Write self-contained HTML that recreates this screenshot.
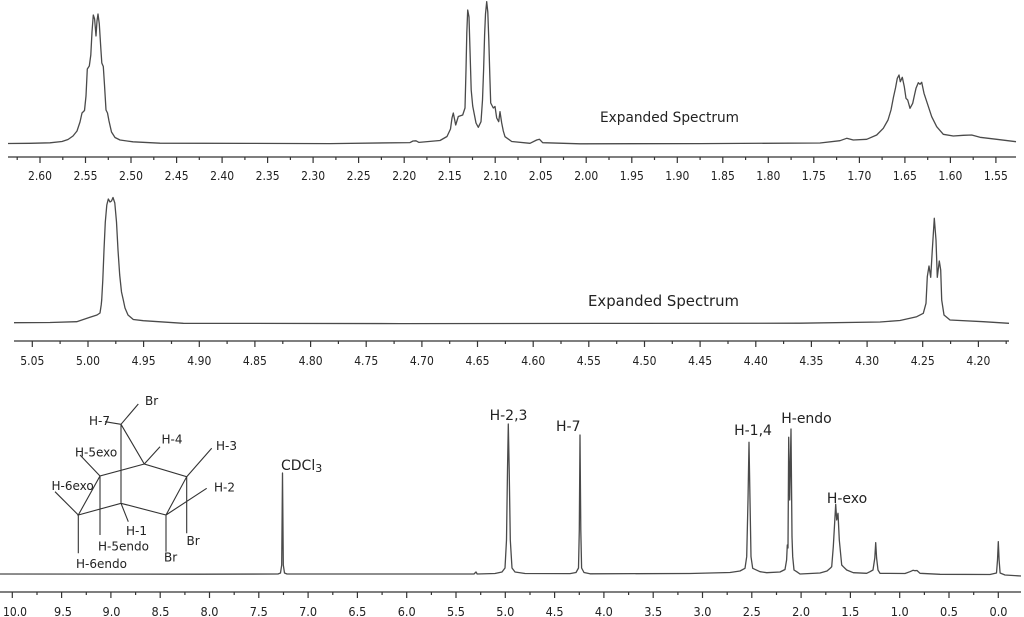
<!DOCTYPE html>
<html><head><meta charset="utf-8"><style>
html,body{margin:0;padding:0;background:#fff;}
svg{display:block;}
text{font-family:"DejaVu Sans","Liberation Sans",sans-serif;fill:#222;}
.ax{stroke:#333;stroke-width:1.2;fill:none;}
.sp{stroke:#4a4a4a;stroke-width:1.3;fill:none;stroke-linejoin:round;}
.mol{stroke:#333;stroke-width:1.1;fill:none;}
.tl{font-size:12px;}
.ml{font-size:12px;}
</style></head><body>
<svg width="1024" height="617" viewBox="0 0 1024 617" xmlns="http://www.w3.org/2000/svg">
<rect width="1024" height="617" fill="#fff"/>

<!-- TOP PANEL -->
<path class="sp" d="M8,143.5 L30,143.3 L50,142.8 L62,141.5 L68,139.5 L73,136 L77,131 L80,122 L82,113 L84.5,110.5 L86,96 L87.3,69 L89.3,66 L90.8,55 L92,32 L93.3,15 L94.6,19 L96,36 L97,21 L98,14 L99.3,24 L100.8,48 L101.8,63 L103.3,66.5 L104.5,85 L106,110 L107.5,113 L109,121 L111.5,132 L115,137.5 L120,140 L133,141.8 L160,143.2 L250,143.4 L330,143.6 L410,142.6 L413,141 L416,140.8 L419,142.4 L440,140.5 L447,136.5 L450.5,129 L452,118 L453.3,113 L455.7,125 L458.3,116.5 L462.7,115 L465,108 L466,70 L466.8,33 L467.7,10 L469,17 L470,50 L471.2,90 L472.7,106 L476,123 L478.3,127.3 L481,121.7 L482.5,100 L483.6,70 L484.6,35 L485.5,14 L486.7,1.7 L487.8,12 L488.8,40 L489.8,75 L490.7,103 L493.3,108 L495,106.5 L496.7,118 L498.7,121.7 L500,111.7 L501.7,123 L503.3,131 L505,136.7 L511.7,141.5 L530,143.3 L536.7,140 L539.5,139.3 L542.7,142.7 L580,143.8 L700,143.6 L820,143 L840,140.7 L846.7,138.3 L853.3,140 L866.7,139.3 L876.7,135 L883.3,128.3 L888,120 L891,110 L893.5,97 L895.5,88 L897.3,78.3 L899,75 L900.3,81.7 L902.3,77.3 L904.3,86.7 L906,98.3 L907.7,100 L910,108.3 L912.7,103.3 L914.5,95 L916,88.3 L918.3,82.7 L920,84.3 L921.7,82.3 L924,93.3 L927.3,103.3 L931.7,116.7 L936.7,126.7 L943.3,134.3 L953.3,136 L963.3,135.3 L971.7,135 L980,137.3 L996.7,139.3 L1016,141.7"/>
<text x="600" y="122" font-size="14" textLength="139" lengthAdjust="spacingAndGlyphs">Expanded Spectrum</text>
<path class="ax" d="M8,157 H1016"/>
<path class="ax" d="M40,157v6M85.5,157v6M131,157v6M176.6,157v6M222.1,157v6M267.6,157v6M313.1,157v6M358.6,157v6M404.2,157v6M449.7,157v6M495.2,157v6M540.7,157v6M586.2,157v6M631.8,157v6M677.3,157v6M722.8,157v6M768.3,157v6M813.8,157v6M859.4,157v6M904.9,157v6M950.4,157v6M995.9,157v6"/>
<path class="ax" d="M17.2,157v3M62.8,157v3M108.3,157v3M153.8,157v3M199.3,157v3M244.9,157v3M290.4,157v3M335.9,157v3M381.4,157v3M426.9,157v3M472.5,157v3M518,157v3M563.5,157v3M609,157v3M654.5,157v3M700.1,157v3M745.6,157v3M791.1,157v3M836.6,157v3M882.1,157v3M927.7,157v3M973.2,157v3"/>
<g class="tl" text-anchor="middle">
<text x="40" y="180" textLength="24" lengthAdjust="spacingAndGlyphs">2.60</text>
<text x="85.5" y="180" textLength="24" lengthAdjust="spacingAndGlyphs">2.55</text>
<text x="131" y="180" textLength="24" lengthAdjust="spacingAndGlyphs">2.50</text>
<text x="176.6" y="180" textLength="24" lengthAdjust="spacingAndGlyphs">2.45</text>
<text x="222.1" y="180" textLength="24" lengthAdjust="spacingAndGlyphs">2.40</text>
<text x="267.6" y="180" textLength="24" lengthAdjust="spacingAndGlyphs">2.35</text>
<text x="313.1" y="180" textLength="24" lengthAdjust="spacingAndGlyphs">2.30</text>
<text x="358.6" y="180" textLength="24" lengthAdjust="spacingAndGlyphs">2.25</text>
<text x="404.2" y="180" textLength="24" lengthAdjust="spacingAndGlyphs">2.20</text>
<text x="449.7" y="180" textLength="24" lengthAdjust="spacingAndGlyphs">2.15</text>
<text x="495.2" y="180" textLength="24" lengthAdjust="spacingAndGlyphs">2.10</text>
<text x="540.7" y="180" textLength="24" lengthAdjust="spacingAndGlyphs">2.05</text>
<text x="586.2" y="180" textLength="24" lengthAdjust="spacingAndGlyphs">2.00</text>
<text x="631.8" y="180" textLength="24" lengthAdjust="spacingAndGlyphs">1.95</text>
<text x="677.3" y="180" textLength="24" lengthAdjust="spacingAndGlyphs">1.90</text>
<text x="722.8" y="180" textLength="24" lengthAdjust="spacingAndGlyphs">1.85</text>
<text x="768.3" y="180" textLength="24" lengthAdjust="spacingAndGlyphs">1.80</text>
<text x="813.8" y="180" textLength="24" lengthAdjust="spacingAndGlyphs">1.75</text>
<text x="859.4" y="180" textLength="24" lengthAdjust="spacingAndGlyphs">1.70</text>
<text x="904.9" y="180" textLength="24" lengthAdjust="spacingAndGlyphs">1.65</text>
<text x="950.4" y="180" textLength="24" lengthAdjust="spacingAndGlyphs">1.60</text>
<text x="995.9" y="180" textLength="24" lengthAdjust="spacingAndGlyphs">1.55</text>
</g>

<!-- MIDDLE PANEL -->
<path class="sp" d="M14,322.7 L50,322.5 L76.7,321.7 L90,317.3 L97,315 L100,313 L101.2,305 L101.7,300 L102.8,280 L104,250 L105.3,222 L106.8,205 L108.3,199 L110,202 L111.5,201 L113,197.5 L114.8,203 L116.5,222 L118,250 L119.7,275 L121.5,292 L123.3,300 L125,308 L128,315 L133.3,319.5 L143.3,320.7 L183.3,323.3 L400,323.6 L600,323.4 L800,323.2 L880,322 L900,320.5 L916.7,316.7 L923.3,313.3 L926,303.3 L927.3,276.7 L929,266 L930.7,277.3 L932.3,250 L934.3,218.3 L936,240 L937.3,277.3 L939.3,261 L940.7,270 L941.7,300 L944,315 L950,320 L983.3,321.7 L1009,323.3"/>
<text x="588" y="306" font-size="15" textLength="151" lengthAdjust="spacingAndGlyphs">Expanded Spectrum</text>
<path class="ax" d="M14,341 H1009"/>
<path class="ax" d="M32.3,341v6M88,341v6M143.6,341v6M199.3,341v6M254.9,341v6M310.6,341v6M366.2,341v6M421.9,341v6M477.5,341v6M533.2,341v6M588.8,341v6M644.5,341v6M700.1,341v6M755.8,341v6M811.4,341v6M867.1,341v6M922.7,341v6M978.4,341v6"/>
<path class="ax" d="M60.1,341v3M115.8,341v3M171.5,341v3M227.1,341v3M282.8,341v3M338.4,341v3M394.1,341v3M449.7,341v3M505.4,341v3M561,341v3M616.7,341v3M672.3,341v3M728,341v3M783.6,341v3M839.3,341v3M894.9,341v3M950.6,341v3M1006.2,341v3"/>
<g class="tl" text-anchor="middle">
<text x="32.3" y="365" textLength="24" lengthAdjust="spacingAndGlyphs">5.05</text>
<text x="88" y="365" textLength="24" lengthAdjust="spacingAndGlyphs">5.00</text>
<text x="143.6" y="365" textLength="24" lengthAdjust="spacingAndGlyphs">4.95</text>
<text x="199.3" y="365" textLength="24" lengthAdjust="spacingAndGlyphs">4.90</text>
<text x="254.9" y="365" textLength="24" lengthAdjust="spacingAndGlyphs">4.85</text>
<text x="310.6" y="365" textLength="24" lengthAdjust="spacingAndGlyphs">4.80</text>
<text x="366.2" y="365" textLength="24" lengthAdjust="spacingAndGlyphs">4.75</text>
<text x="421.9" y="365" textLength="24" lengthAdjust="spacingAndGlyphs">4.70</text>
<text x="477.5" y="365" textLength="24" lengthAdjust="spacingAndGlyphs">4.65</text>
<text x="533.2" y="365" textLength="24" lengthAdjust="spacingAndGlyphs">4.60</text>
<text x="588.8" y="365" textLength="24" lengthAdjust="spacingAndGlyphs">4.55</text>
<text x="644.5" y="365" textLength="24" lengthAdjust="spacingAndGlyphs">4.50</text>
<text x="700.1" y="365" textLength="24" lengthAdjust="spacingAndGlyphs">4.45</text>
<text x="755.8" y="365" textLength="24" lengthAdjust="spacingAndGlyphs">4.40</text>
<text x="811.4" y="365" textLength="24" lengthAdjust="spacingAndGlyphs">4.35</text>
<text x="867.1" y="365" textLength="24" lengthAdjust="spacingAndGlyphs">4.30</text>
<text x="922.7" y="365" textLength="24" lengthAdjust="spacingAndGlyphs">4.25</text>
<text x="978.4" y="365" textLength="24" lengthAdjust="spacingAndGlyphs">4.20</text>
</g>

<!-- BOTTOM PANEL -->
<path class="sp" d="M0,574 L200,574.2 L278,574 L280.5,573 L281.7,565 L282.5,473 L283.3,565 L284.5,573 L287,574 L474,574 L476,572 L477.2,574 L495,573.5 L502,572 L505,568 L506.5,540 L507.5,470 L508.3,424 L509.2,470 L510.3,540 L512,568 L515,572 L525,573.5 L570,573.6 L576,572.5 L578.5,568 L579.3,530 L580,435 L580.8,530 L581.6,568 L584,572.5 L590,573.8 L690,573.5 L730,572.5 L740,571 L745,568.3 L746.7,556.7 L748,500 L749,442.3 L750,500 L751,556.7 L752.7,568.3 L760,571.7 L766.7,572.7 L780,572 L785,569.5 L786.6,560 L787.3,545 L788,548 L788.7,437.3 L789.7,500 L791,429 L792,536.7 L792.7,556.7 L794,570 L796.7,571.7 L800,574 L820,573 L827,571 L830.5,568 L831.7,566.7 L833.3,546.7 L835.7,504.3 L836.7,520 L838,513.3 L839.3,540 L841.7,565 L843.3,566.7 L846.7,570 L853.3,572.7 L866.7,573.3 L870,571.7 L873,570 L874.8,558 L875.7,542.7 L876.6,558 L878,570 L880,573.3 L905,573.5 L910,571.7 L913,570.3 L915,570.7 L917,570.5 L920,573.3 L940,574.3 L990,574.5 L996.5,573 L997.5,560 L998.3,541.7 L999.1,560 L1000.1,573 L1005,575 L1021,576"/>
<g font-size="14">
<text x="281" y="470">CDCl<tspan font-size="11" dy="2">3</tspan></text>
<text x="508.5" y="420" text-anchor="middle">H-2,3</text>
<text x="556" y="431">H-7</text>
<text x="753" y="435" text-anchor="middle">H-1,4</text>
<text x="806.5" y="423" text-anchor="middle">H-endo</text>
<text x="847" y="503" text-anchor="middle">H-exo</text>
</g>
<path class="ax" d="M0,592 H1021"/>
<path class="ax" d="M12.3,592v6M61.6,592v6M110.9,592v6M160.2,592v6M209.5,592v6M258.8,592v6M308.1,592v6M357.4,592v6M406.7,592v6M456,592v6M505.3,592v6M554.6,592v6M603.9,592v6M653.2,592v6M702.5,592v6M751.8,592v6M801.1,592v6M850.4,592v6M899.7,592v6M949,592v6M998.3,592v6"/>
<path class="ax" d="M37,592v3M86.3,592v3M135.6,592v3M184.9,592v3M234.2,592v3M283.5,592v3M332.8,592v3M382.1,592v3M431.4,592v3M480.7,592v3M530,592v3M579.3,592v3M628.6,592v3M677.9,592v3M727.2,592v3M776.5,592v3M825.8,592v3M875.1,592v3M924.4,592v3M973.7,592v3"/>
<g class="tl" text-anchor="middle">
<text x="15" y="616" textLength="24" lengthAdjust="spacingAndGlyphs">10.0</text>
<text x="63" y="616" textLength="18" lengthAdjust="spacingAndGlyphs">9.5</text>
<text x="111.5" y="616" textLength="18" lengthAdjust="spacingAndGlyphs">9.0</text>
<text x="160.5" y="616" textLength="18" lengthAdjust="spacingAndGlyphs">8.5</text>
<text x="209.5" y="616" textLength="18" lengthAdjust="spacingAndGlyphs">8.0</text>
<text x="258.8" y="616" textLength="18" lengthAdjust="spacingAndGlyphs">7.5</text>
<text x="308.1" y="616" textLength="18" lengthAdjust="spacingAndGlyphs">7.0</text>
<text x="357.4" y="616" textLength="18" lengthAdjust="spacingAndGlyphs">6.5</text>
<text x="406.7" y="616" textLength="18" lengthAdjust="spacingAndGlyphs">6.0</text>
<text x="456" y="616" textLength="18" lengthAdjust="spacingAndGlyphs">5.5</text>
<text x="505.3" y="616" textLength="18" lengthAdjust="spacingAndGlyphs">5.0</text>
<text x="554.6" y="616" textLength="18" lengthAdjust="spacingAndGlyphs">4.5</text>
<text x="603.9" y="616" textLength="18" lengthAdjust="spacingAndGlyphs">4.0</text>
<text x="653.2" y="616" textLength="18" lengthAdjust="spacingAndGlyphs">3.5</text>
<text x="702.5" y="616" textLength="18" lengthAdjust="spacingAndGlyphs">3.0</text>
<text x="751.8" y="616" textLength="18" lengthAdjust="spacingAndGlyphs">2.5</text>
<text x="801.1" y="616" textLength="18" lengthAdjust="spacingAndGlyphs">2.0</text>
<text x="850.4" y="616" textLength="18" lengthAdjust="spacingAndGlyphs">1.5</text>
<text x="899.7" y="616" textLength="18" lengthAdjust="spacingAndGlyphs">1.0</text>
<text x="949" y="616" textLength="18" lengthAdjust="spacingAndGlyphs">0.5</text>
<text x="998.5" y="616" textLength="18" lengthAdjust="spacingAndGlyphs">0.0</text>
</g>

<!-- MOLECULE -->
<path class="mol" d="M121,424.3 L121,503.3 M121,424.3 L144.3,464 L186.7,476.7 L166,515 L121,503.3 L78.3,515 L100,476 L144.3,464
M121,424.3 L138.3,404 M105,421.7 L121,424.3 M144.3,464 L160,446.7 M186.7,476.7 L211.7,448.3 M186.7,476.7 L186.7,533.3
M166,515 L206.7,488.3 M166,515 L166,551.7 M121,503.3 L128.3,521.7 M100,476 L80,455 M100,476 L100,535
M78.3,515 L55,491.7 M78.3,515 L78.3,553.3"/>
<g class="ml">
<text x="145" y="405">Br</text>
<text x="89" y="425">H-7</text>
<text x="161.5" y="443.5">H-4</text>
<text x="216" y="450">H-3</text>
<text x="75" y="456.5">H-5exo</text>
<text x="51.5" y="490">H-6exo</text>
<text x="214" y="491.5">H-2</text>
<text x="126" y="535">H-1</text>
<text x="186.5" y="545">Br</text>
<text x="98" y="550.5">H-5endo</text>
<text x="164" y="561.5">Br</text>
<text x="76" y="568">H-6endo</text>
</g>
</svg>
</body></html>
